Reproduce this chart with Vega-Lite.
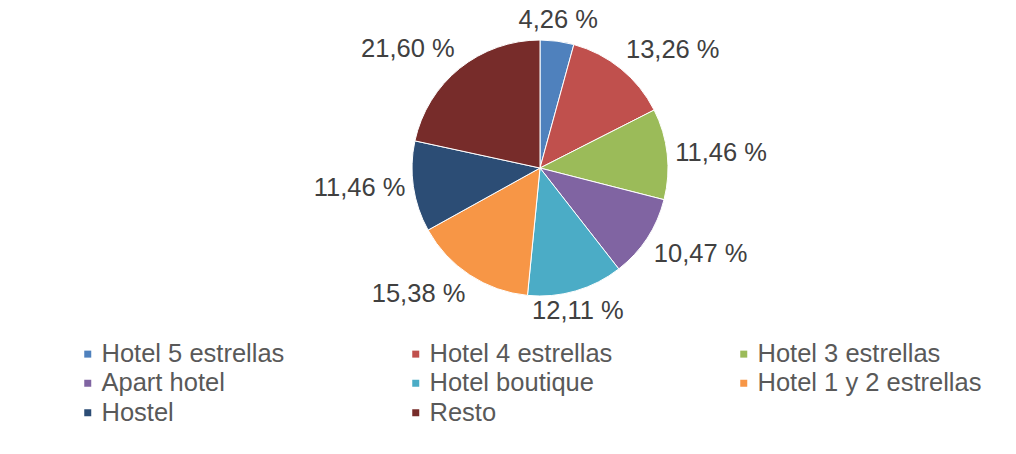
{
  "$schema": "https://vega.github.io/schema/vega-lite/v6.json",
  "width": 952,
  "height": 336,
  "padding": {"left": 64, "top": 0, "right": 0, "bottom": 0},
  "background": "white",
  "config": {"view": {"stroke": null}, "font": "Liberation Sans"},
  "data": {
    "values": [
      {"categoria": "Hotel 5 estrellas", "pct": 4.26, "orden": 1, "etiqueta": "4,26 %"},
      {"categoria": "Hotel 4 estrellas", "pct": 13.26, "orden": 2, "etiqueta": "13,26 %"},
      {"categoria": "Hotel 3 estrellas", "pct": 11.46, "orden": 3, "etiqueta": "11,46 %"},
      {"categoria": "Apart hotel", "pct": 10.47, "orden": 4, "etiqueta": "10,47 %"},
      {"categoria": "Hotel boutique", "pct": 12.11, "orden": 5, "etiqueta": "12,11 %"},
      {"categoria": "Hotel 1 y 2 estrellas", "pct": 15.38, "orden": 6, "etiqueta": "15,38 %"},
      {"categoria": "Hostel", "pct": 11.46, "orden": 7, "etiqueta": "11,46 %"},
      {"categoria": "Resto", "pct": 21.60, "orden": 8, "etiqueta": "21,60 %"}
    ]
  },
  "encoding": {
    "theta": {"field": "pct", "type": "quantitative", "stack": true},
    "order": {"field": "orden", "type": "quantitative"}
  },
  "layer": [
    {
      "mark": {"type": "arc", "outerRadius": 128, "stroke": "#ffffff", "strokeWidth": 1},
      "encoding": {
        "color": {
          "field": "categoria",
          "type": "nominal",
          "sort": null,
          "scale": {
            "domain": ["Hotel 5 estrellas", "Hotel 4 estrellas", "Hotel 3 estrellas", "Apart hotel", "Hotel boutique", "Hotel 1 y 2 estrellas", "Hostel", "Resto"],
            "range": ["#4F81BD", "#C0504D", "#9BBB59", "#8064A2", "#4BACC6", "#F79646", "#2C4D75", "#772C2A"]
          },
          "legend": {
            "orient": "none",
            "legendX": 11,
            "legendY": 341,
            "direction": "horizontal",
            "columns": 3,
            "title": null,
            "symbolType": "square",
            "symbolSize": 49,
            "symbolStrokeWidth": 0,
            "labelFontSize": 25.5,
            "labelColor": "#595959",
            "labelFont": "Liberation Sans",
            "labelLimit": 400,
            "labelOffset": 1,
            "columnPadding": 118,
            "rowPadding": 2.5
          }
        }
      }
    },
    {
      "mark": {
        "type": "text",
        "radius": 136,
        "fontSize": 25.5,
        "font": "Liberation Sans",
        "fill": "#404040",
        "align": {"expr": "sin(PI*(datum.pct_start+datum.pct_end)/100) > 0.3 ? 'left' : (sin(PI*(datum.pct_start+datum.pct_end)/100) < -0.3 ? 'right' : 'center')"},
        "baseline": {"expr": "cos(PI*(datum.pct_start+datum.pct_end)/100) > 0.3 ? 'bottom' : (cos(PI*(datum.pct_start+datum.pct_end)/100) < -0.3 ? 'top' : 'middle')"}
      },
      "encoding": {
        "text": {"field": "etiqueta", "type": "nominal"}
      }
    }
  ]
}
